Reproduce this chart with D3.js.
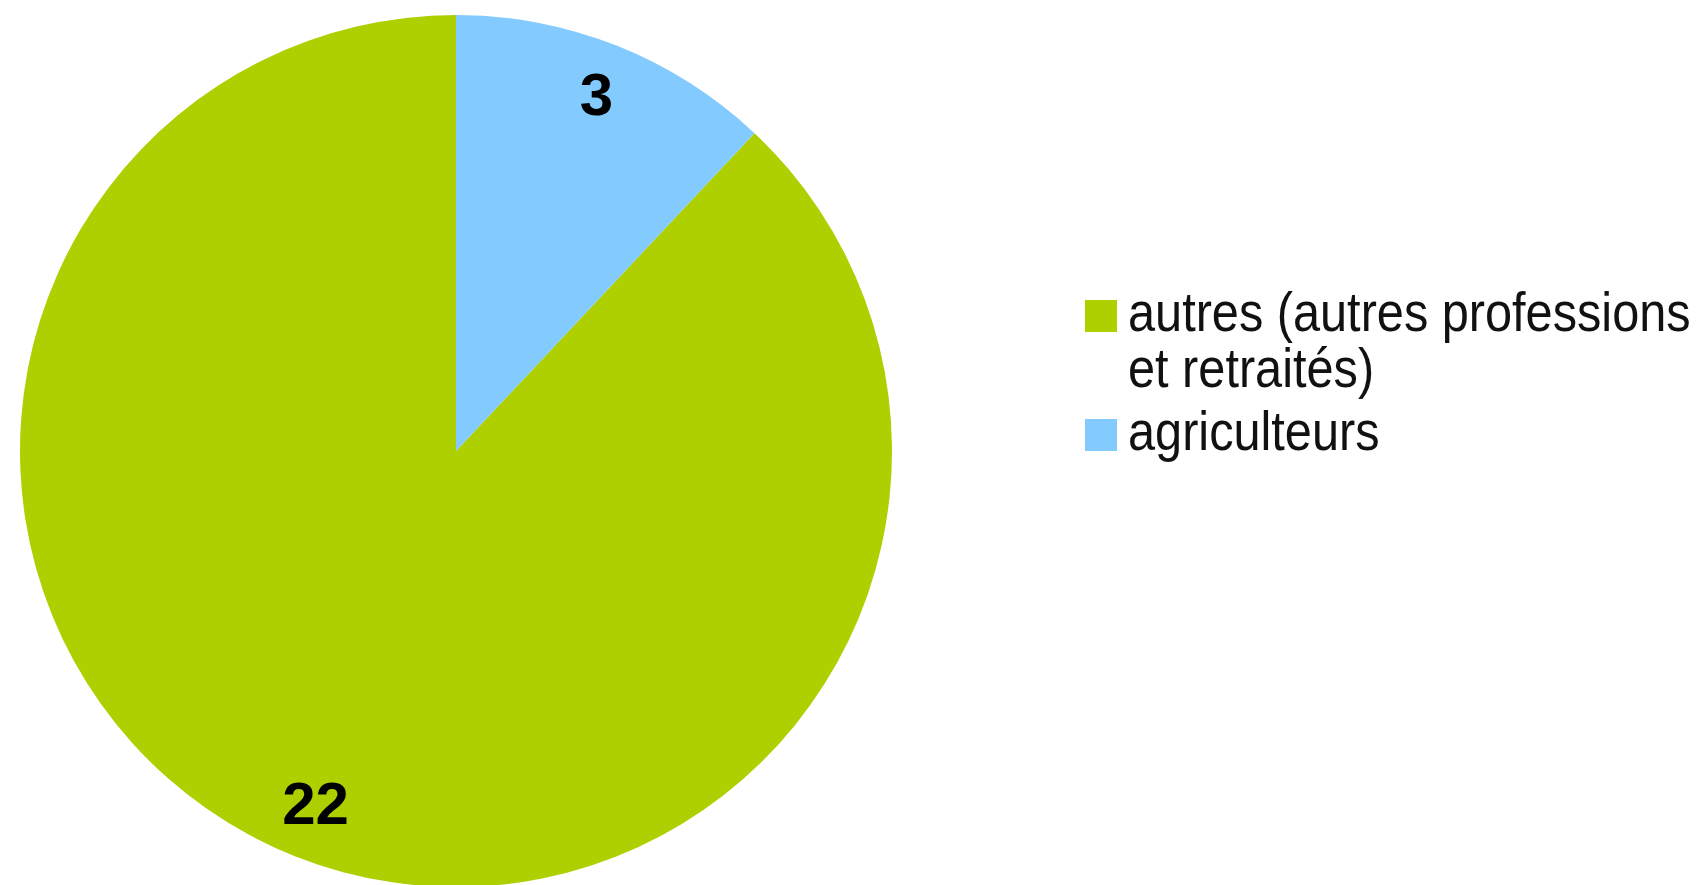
<!DOCTYPE html>
<html>
<head>
<meta charset="utf-8">
<script src="https://cdn.jsdelivr.net/npm/d3@7"></script>
<style>
  body { margin: 0; background: #ffffff; }
  svg { display: block; }
</style>
</head>
<body>
<div id="chart"></div>
<script>
var svgWidth = 1705;
var svgHeight = 885;

// Données
var categories = ["autres (autres professions et retraités)", "agriculteurs"];
var legendLines = [["autres (autres professions", "et retraités)"], ["agriculteurs"]];
var values = [22, 3];
var colors = ["#aecf00", "#83caff"];

var cx = 456;
var cy = 451;
var radius = 436;

var svg = d3.select("#chart")
    .append("svg")
    .attr("width", svgWidth)
    .attr("height", svgHeight);

var pieGroup = svg.append("g")
    .attr("transform", `translate(${cx}, ${cy})`);

// Secteurs dans le sens antihoraire depuis le haut
var pie = d3.pie()
    .sort(null)
    .startAngle(2 * Math.PI)
    .endAngle(0)
    .value(d => d);

var arcs = pie(values);

var arc = d3.arc()
    .innerRadius(0)
    .outerRadius(radius);

var labelArc = d3.arc()
    .innerRadius(radius * 0.875)
    .outerRadius(radius * 0.875);

var color = d3.scaleOrdinal()
    .domain(categories)
    .range(colors);

pieGroup.selectAll("path")
    .data(arcs)
    .enter()
    .append("path")
    .attr("d", arc)
    .attr("fill", (d, i) => color(categories[i]));

pieGroup.selectAll("text")
    .data(arcs)
    .enter()
    .append("text")
    .attr("transform", d => `translate(${labelArc.centroid(d)})`)
    .attr("text-anchor", "middle")
    .attr("dy", "0.31em")
    .style("font-family", "'Liberation Sans', Arial, sans-serif")
    .style("font-weight", "bold")
    .style("font-size", "60px")
    .attr("fill", "#000")
    .text(d => d.data);

// Légende (police un peu étroite, comme l'original)
var legendX = 1085;
var legendTop = [300, 419];
var box = 32;
var lineHeight = 56;

var legend = svg.append("g");

var items = legend.selectAll("g")
    .data(categories)
    .enter()
    .append("g")
    .attr("transform", (d, i) => `translate(${legendX}, ${legendTop[i]})`);

items.append("rect")
    .attr("width", box)
    .attr("height", box)
    .attr("fill", d => color(d));

items.append("g")
    .attr("transform", "translate(43, 31) scale(0.885, 1)")
    .append("text")
    .style("font-family", "'Liberation Sans', Arial, sans-serif")
    .style("font-size", "55px")
    .attr("fill", "#111")
    .selectAll("tspan")
    .data((d, i) => legendLines[i])
    .enter()
    .append("tspan")
    .attr("x", 0)
    .attr("dy", (d, j) => j === 0 ? 0 : lineHeight)
    .text(d => d);
</script>
</body>
</html>
